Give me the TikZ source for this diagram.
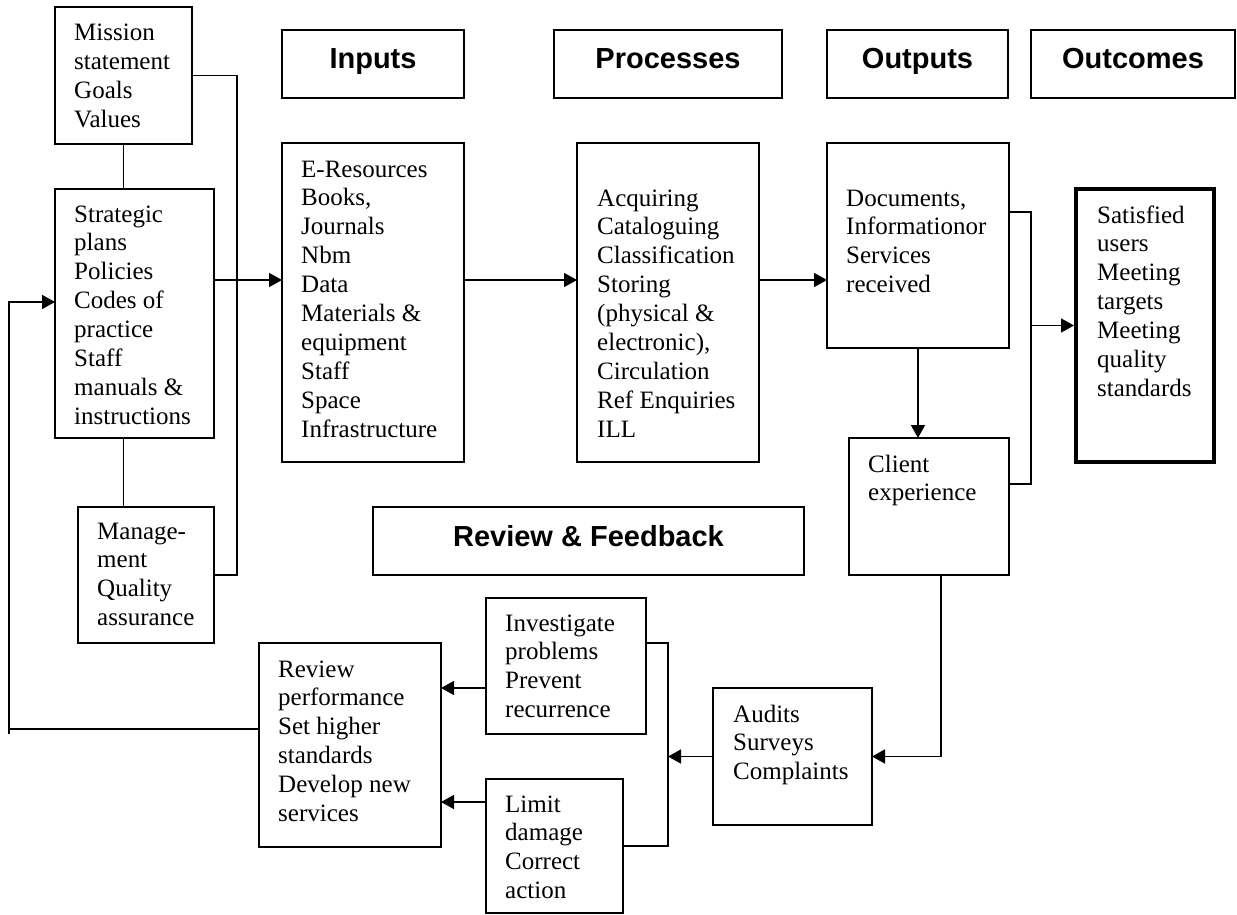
\documentclass[tikz,border=0pt]{standalone}
\usepackage{fontspec}
\setmainfont{Liberation Serif}
\newfontfamily\headfam{Liberation Sans}
\usetikzlibrary{arrows.meta,calc}
\newcommand{\bodysize}{\fontsize{25}{28.9}\selectfont}
\newcommand{\headsize}{\headfam\bfseries\fontsize{29}{33}\selectfont}

\begin{document}
\begin{tikzpicture}[x=1pt,y=-1pt,
  box/.style={draw,line width=1.6pt,inner sep=0pt,outer sep=0pt,anchor=north west},
  txt/.style={anchor=base west,inner sep=0pt,font=\bodysize},
  head/.style={anchor=base,inner sep=0pt,font=\headsize},
  wire/.style={line width=1.6pt},
  arr/.style={line width=1.6pt,-{Triangle[length=13pt,width=14pt]}}]
\useasboundingbox (0,0) rectangle (1237,915);

% column headings
\node[box,minimum width=182,minimum height=68] (hIn) at (282,30) {};
\node[box,minimum width=228,minimum height=68] (hProc) at (554,30) {};
\node[box,minimum width=181,minimum height=68] (hOut) at (827,30) {};
\node[box,minimum width=204,minimum height=68] (hOutc) at (1031,30) {};
\node[head] (hIn-t) at (373,69) {Inputs};
\node[head] (hProc-t) at (668,69) {Processes};
\node[head] (hOut-t) at (917.5,69) {Outputs};
\node[head] (hOutc-t) at (1133,69) {Outcomes};
\node[box,minimum width=431,minimum height=68] (hRev) at (373,507) {};
\node[head] (hRev-t) at (588.5,546) {Review \& Feedback};

% left column
\node[box,minimum width=137,minimum height=137] (mission) at (55,7) {};
\node[txt] (mission-t) at (74,41) {\begin{tabular}[t]{@{}l@{}}Mission\\statement\\Goals\\Values\end{tabular}};
\node[box,minimum width=159,minimum height=249] (strategic) at (55,189) {};
\node[txt] (strategic-t) at (74,222) {\begin{tabular}[t]{@{}l@{}}Strategic\\plans\\Policies\\Codes of\\practice\\Staff\\manuals \&\\instructions\end{tabular}};
\node[box,minimum width=136,minimum height=136] (mgmt) at (78,507) {};
\node[txt] (mgmt-t) at (97,539) {\begin{tabular}[t]{@{}l@{}}Manage-\\ment\\Quality\\assurance\end{tabular}};

% main flow
\node[box,minimum width=182,minimum height=319] (inputs) at (282,143) {};
\node[txt] (inputs-t) at (301,177) {\begin{tabular}[t]{@{}l@{}}E-Resources\\Books,\\Journals\\Nbm\\Data\\Materials \&\\equipment\\Staff\\Space\\Infrastructure\end{tabular}};
\node[box,minimum width=182,minimum height=319] (processes) at (577,143) {};
\node[txt] (processes-t) at (597,206) {\begin{tabular}[t]{@{}l@{}}Acquiring\\Cataloguing\\Classification\\Storing\\(physical \&\\electronic),\\Circulation\\Ref Enquiries\\ILL\end{tabular}};
\node[box,minimum width=182,minimum height=205] (outputs) at (827,143) {};
\node[txt] (outputs-t) at (846,206) {\begin{tabular}[t]{@{}l@{}}Documents,\\Informationor\\Services\\received\end{tabular}};
\node[box,minimum width=160,minimum height=137] (client) at (849,438) {};
\node[txt] (client-t) at (868,472) {\begin{tabular}[t]{@{}l@{}}Client\\experience\end{tabular}};
\node[box,line width=4.5pt,minimum width=138,minimum height=273] (outcomes) at (1076,189) {};
\node[txt] (outcomes-t) at (1097,223) {\begin{tabular}[t]{@{}l@{}}Satisfied\\users\\Meeting\\targets\\Meeting\\quality\\standards\end{tabular}};

% feedback loop
\node[box,minimum width=159,minimum height=137] (audits) at (713,688) {};
\node[txt] (audits-t) at (733,722) {\begin{tabular}[t]{@{}l@{}}Audits\\Surveys\\Complaints\end{tabular}};
\node[box,minimum width=160,minimum height=136] (investigate) at (486,598) {};
\node[txt] (investigate-t) at (505,631) {\begin{tabular}[t]{@{}l@{}}Investigate\\problems\\Prevent\\recurrence\end{tabular}};
\node[box,minimum width=137,minimum height=134] (limit) at (486,779) {};
\node[txt] (limit-t) at (505,812) {\begin{tabular}[t]{@{}l@{}}Limit\\damage\\Correct\\action\end{tabular}};
\node[box,minimum width=182,minimum height=204] (review) at (259,643) {};
\node[txt] (review-t) at (278,677) {\begin{tabular}[t]{@{}l@{}}Review\\performance\\Set higher\\standards\\Develop new\\services\end{tabular}};

\coordinate (lbus) at (237,0);
\coordinate (flow) at (0,280);
\coordinate (obus) at (1031,212);
\coordinate (ocl) at (0,484);
\coordinate (cdrop) at (941,0);
\coordinate (fbus) at (668,643);
\coordinate (back) at (9,729);

\draw[wire] (mission.south) -- (mission.south |- strategic.north);
\draw[wire] (mission.south |- strategic.south) -- (mission.south |- mgmt.north);
\draw[wire] (mission.east) -| (lbus |- mgmt.east) -- (mgmt.east);
\draw[arr] (strategic.east |- flow) -- (inputs.west |- flow);
\draw[arr] (inputs.east |- flow) -- (processes.west |- flow);
\draw[arr] (processes.east |- flow) -- (outputs.west |- flow);
\draw[arr] (outputs.south) -- (outputs.south |- client.north);
\draw[wire] (outputs.east |- obus) -- (obus) |- (client.east |- ocl);
\draw[arr,shorten >=2pt] (obus |- outcomes.west) -- (outcomes.west);
\draw[arr] (client.south -| cdrop) |- (audits.east);
\draw[arr] (audits.west) -- (audits.west -| fbus);
\draw[wire] (investigate.east |- fbus) -- (fbus) |- (limit.east);
\draw[arr] ($(investigate.west |- 0,688)$) -- ($(review.east |- 0,688)$);
\draw[arr] ($(limit.west |- 0,802)$) -- ($(review.east |- 0,802)$);
\draw[wire] (review.west |- back) -- (back);
\draw[arr] ($(back)+(0,5)$) |- ($(strategic.west |- 0,302)$);

\end{tikzpicture}
\end{document}
